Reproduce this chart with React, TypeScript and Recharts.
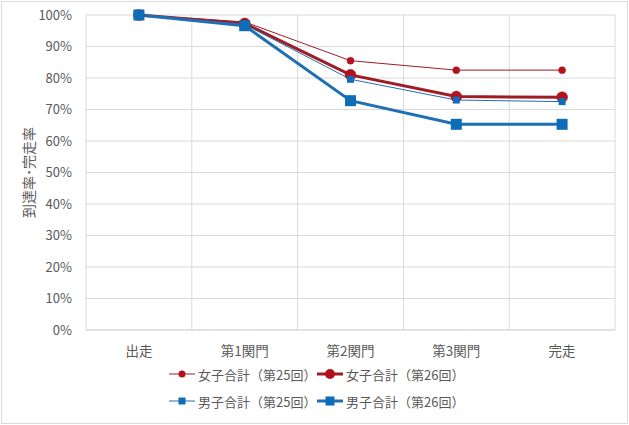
import React from 'react';
import { LineChart, Line, XAxis, YAxis, CartesianGrid, Legend } from 'recharts';

const categories = ['出走', '第1関門', '第2関門', '第3関門', '完走'];
const women25 = [100, 97.8, 85.5, 82.5, 82.5];
const women26 = [100, 97.3, 81.0, 74.1, 73.9];
const men25 = [100, 97.0, 79.6, 73.0, 72.5];
const men26 = [100, 96.6, 72.8, 65.3, 65.3];
const yTicks = [0, 10, 20, 30, 40, 50, 60, 70, 80, 90, 100];

const seriesNames = ['女子合計（第25回）', '女子合計（第26回）', '男子合計（第25回）', '男子合計（第26回）'];

const data = categories.map((c, i) => ({
  name: c,
  w25: women25[i],
  w26: women26[i],
  m25: men25[i],
  m26: men26[i],
}));

const RED_LINE = '#A01C24';
const RED_MARK = '#B3121C';
const BLUE_LINE = '#1E6FB4';
const BLUE_MARK = '#0F6DB8';

const FONT = '"Noto Sans CJK JP", "Noto Sans", sans-serif';

const circleDot = (r: number, fill: string) => (props: any) => {
  const { cx, cy, index } = props;
  if (cx == null || cy == null) return <g key={index} />;
  return <circle key={index} cx={cx} cy={cy} r={r} fill={fill} stroke={fill} strokeWidth={0.5} />;
};

const squareDot = (s: number, fill: string) => (props: any) => {
  const { cx, cy, index } = props;
  if (cx == null || cy == null) return <g key={index} />;
  return <rect key={index} x={cx - s / 2} y={cy - s / 2} width={s} height={s} fill={fill} />;
};

const legendItems = [
  { name: seriesNames[0], color: RED_LINE, mark: RED_MARK, w: 1, shape: 'circle', size: 3.5 },
  { name: seriesNames[1], color: RED_LINE, mark: RED_MARK, w: 3, shape: 'circle', size: 5 },
  { name: seriesNames[2], color: BLUE_LINE, mark: BLUE_MARK, w: 1, shape: 'square', size: 7 },
  { name: seriesNames[3], color: BLUE_LINE, mark: BLUE_MARK, w: 3, shape: 'square', size: 9 },
];

const LegendIcon = ({ item }: any) => (
  <svg width={28} height={14} style={{ display: 'block' }}>
    <line x1={1} y1={7} x2={27} y2={7} stroke={item.color} strokeWidth={item.w} />
    {item.shape === 'circle' ? (
      <circle cx={14} cy={7} r={item.size} fill={item.mark} />
    ) : (
      <rect x={14 - item.size / 2} y={7 - item.size / 2} width={item.size} height={item.size} fill={item.mark} />
    )}
  </svg>
);

const CustomLegend = () => (
  <div style={{ position: 'relative', width: 629, height: 50, fontFamily: FONT, fontSize: 13, color: '#595959' }}>
    {legendItems.map((item, i) => {
      const col = i % 2;
      const row = Math.floor(i / 2);
      return (
        <div
          key={i}
          style={{
            position: 'absolute',
            left: col === 0 ? 168 : 316,
            top: row * 27,
            display: 'flex',
            alignItems: 'center',
            height: 18,
            whiteSpace: 'nowrap',
          }}
        >
          <LegendIcon item={item} />
          <span style={{ marginLeft: 2 }}>{item.name}</span>
        </div>
      );
    })}
  </div>
);

export default function App() {
  return (
    <div style={{ position: 'absolute', left: 0, top: 0, width: 629, height: 425, background: '#fff' }}>
      <div
        style={{
          position: 'absolute',
          left: 1,
          top: 1,
          width: 625,
          height: 421,
          border: '1px solid #d9d9d9',
        }}
      />
      <div style={{ position: 'absolute', left: 0, top: 0 }}>
        <LineChart width={629} height={425} data={data} margin={{ top: 15, right: 14, left: 0, bottom: 0 }}>
          <CartesianGrid
            stroke="#d9d9d9"
            horizontal={true}
            vertical={true}
            verticalCoordinatesGenerator={({ offset }: any) =>
              categories.map((_, i) => offset.left + ((i + 1) * offset.width) / categories.length)
            }
          />
          <XAxis
            dataKey="name"
            scale="band"
            height={45}
            tickLine={false}
            axisLine={{ stroke: '#d9d9d9' }}
            tick={{ fill: '#595959', fontSize: 13.5, fontFamily: FONT }}
            tickMargin={10}
            interval={0}
          />
          <YAxis
            width={86}
            domain={[0, 100]}
            ticks={yTicks}
            tickFormatter={(v: number) => `${v}%`}
            tickLine={false}
            axisLine={{ stroke: '#d9d9d9' }}
            tick={{ fill: '#595959', fontSize: 13, fontFamily: FONT }}
            tickMargin={8}
            interval={0}
            label={{
              value: '到達率･完走率',
              angle: -90,
              position: 'insideLeft',
              offset: 29,
              style: { textAnchor: 'middle', fill: '#595959', fontSize: 14, fontFamily: FONT },
            }}
          />
          <Legend
            verticalAlign="bottom"
            content={() => <CustomLegend />}
            wrapperStyle={{ left: 0, top: 365, bottom: 'auto', width: 629, height: 50 }}
          />
          <Line
            dataKey="w25"
            name={seriesNames[0]}
            stroke={RED_LINE}
            strokeWidth={1}
            dot={circleDot(3.5, RED_MARK)}
            activeDot={false}
            isAnimationActive={false}
          />
          <Line
            dataKey="w26"
            name={seriesNames[1]}
            stroke={RED_LINE}
            strokeWidth={3}
            dot={circleDot(5.5, RED_MARK)}
            activeDot={false}
            isAnimationActive={false}
          />
          <Line
            dataKey="m25"
            name={seriesNames[2]}
            stroke={BLUE_LINE}
            strokeWidth={1}
            dot={squareDot(7, BLUE_MARK)}
            activeDot={false}
            isAnimationActive={false}
          />
          <Line
            dataKey="m26"
            name={seriesNames[3]}
            stroke={BLUE_LINE}
            strokeWidth={3}
            dot={squareDot(11, BLUE_MARK)}
            activeDot={false}
            isAnimationActive={false}
          />
        </LineChart>
      </div>
    </div>
  );
}
